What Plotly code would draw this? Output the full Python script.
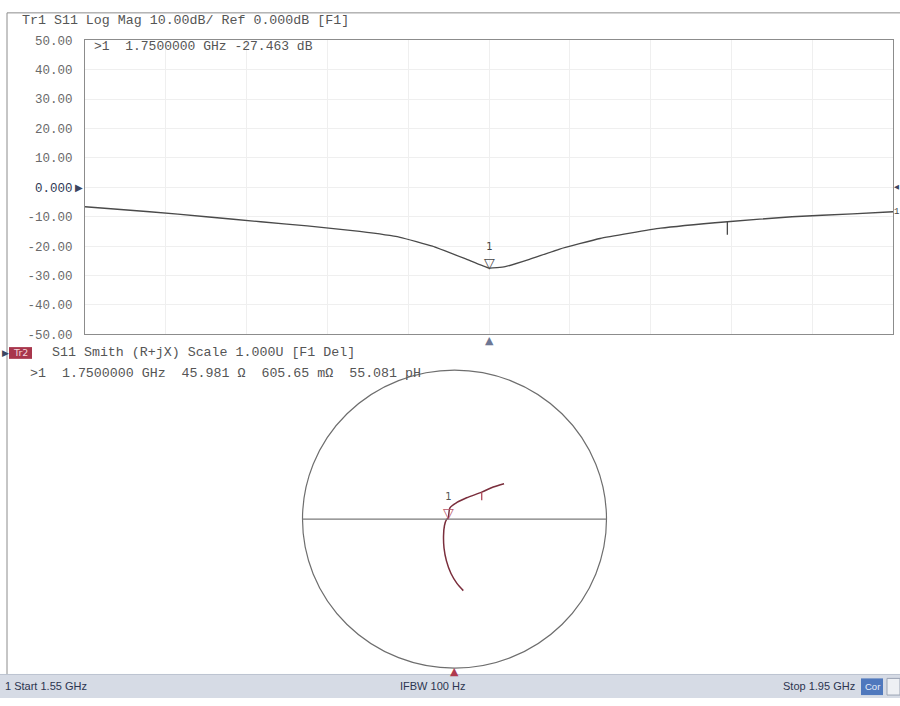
import numpy as np
import plotly.graph_objects as go

W, H = 900, 706

# ---- Trace 1: S11 log magnitude (dB) vs frequency ----
freq_ghz = [1.550, 1.582, 1.610, 1.637, 1.660, 1.686, 1.706, 1.722, 1.739, 1.750,
            1.758, 1.770, 1.785, 1.805, 1.835, 1.868, 1.900, 1.930, 1.950]
s11_db = [-6.6, -8.3, -10.0, -11.7, -13.1, -15.0, -17.0, -20.0, -24.5, -27.463,
          -27.0, -24.5, -21.0, -17.4, -13.9, -11.7, -10.0, -9.0, -8.3]

y_tick_vals = [50, 40, 30, 20, 10, 0, -10, -20, -30, -40, -50]
y_tick_text = ["50.00", "40.00", "30.00", "20.00", "10.00", "0.000",
               "-10.00", "-20.00", "-30.00", "-40.00", "-50.00"]

# ---- Trace 2: S11 on the Smith chart (reflection coefficient) ----
smith_freq_ghz = [1.550, 1.565, 1.590, 1.625, 1.665, 1.708, 1.730, 1.744, 1.750,
                  1.778, 1.797, 1.820, 1.868, 1.910, 1.950]
gamma_re = [0.058, 0.016, -0.023, -0.053, -0.069, -0.072, -0.066, -0.053, -0.0418,
            -0.030, 0.016, 0.080, 0.179, 0.255, 0.326]
gamma_im = [-0.480, -0.431, -0.365, -0.280, -0.194, -0.109, -0.043, -0.003, 0.0066,
            0.076, 0.112, 0.143, 0.181, 0.216, 0.238]

# ---- Marker 1 readouts ----
marker_freq_ghz = 1.75
marker_db = -27.463
marker_r_ohm = 45.981
marker_x_mohm = 605.65
marker_l_ph = 55.081
z0_ohm = 50.0
aux_tick_freq_ghz = 1.868

start_ghz, stop_ghz = 1.55, 1.95
ifbw_hz = 100

# marker position on the Smith chart from its impedance
z_norm = complex(marker_r_ohm, marker_x_mohm / 1000.0) / z0_ohm
g_marker = (z_norm - 1) / (z_norm + 1)

tick_db = float(np.interp(aux_tick_freq_ghz, freq_ghz, s11_db))
tick_re = float(np.interp(aux_tick_freq_ghz, smith_freq_ghz, gamma_re))
tick_im = float(np.interp(aux_tick_freq_ghz, smith_freq_ghz, gamma_im))


def px(x):
    return x / W


def py(y):
    return 1 - y / H


MONO = "Liberation Mono, DejaVu Sans Mono, monospace"
TXT = "#555555"
TRACE1 = "#4a4a4a"
TRACE2 = "#7a2e3c"
BG = "#ffffff"

fig = go.Figure()

fig.add_trace(go.Scatter(
    x=freq_ghz, y=s11_db, mode="lines",
    line=dict(color=TRACE1, width=1.3, shape="spline", smoothing=0.35),
    xaxis="x", yaxis="y", hoverinfo="skip", showlegend=False))

fig.add_trace(go.Scatter(
    x=gamma_re, y=gamma_im, mode="lines",
    line=dict(color=TRACE2, width=1.5, shape="spline", smoothing=0.8),
    xaxis="x2", yaxis="y2", hoverinfo="skip", showlegend=False))

# Smith chart geometry (pixels)
cx, cy, rad = 454.5, 523.5, 152.0
pad = 1.02

fig.update_layout(
    width=W, height=H,
    margin=dict(l=0, r=0, t=0, b=0),
    paper_bgcolor=BG,
    plot_bgcolor=BG,
    showlegend=False,
    xaxis=dict(
        domain=[px(85), px(893)], range=[start_ghz, stop_ghz],
        tick0=start_ghz, dtick=(stop_ghz - start_ghz) / 10,
        showticklabels=False, ticks="",
        showgrid=True, gridcolor="#efefef", gridwidth=1,
        zeroline=False, showline=True, mirror=True,
        linecolor="#8c8c8c", linewidth=1, fixedrange=True),
    yaxis=dict(
        domain=[py(335), py(35)], range=[-50, 50],
        tickvals=y_tick_vals,
        ticktext=[("<span style='color:#2f3a55'>%s</span>" % t) if v == 0 else t
                  for v, t in zip(y_tick_vals, y_tick_text)],
        tickfont=dict(family=MONO, size=12.5, color="#6a6a6a"),
        ticks="", ticklabelstandoff=9,
        showgrid=True, gridcolor="#efefef", gridwidth=1,
        zeroline=False, showline=True, mirror=True,
        linecolor="#8c8c8c", linewidth=1, fixedrange=True),
    xaxis2=dict(
        domain=[px(cx - rad * pad), px(cx + rad * pad)], range=[-pad, pad],
        visible=False, fixedrange=True),
    yaxis2=dict(
        domain=[py(cy + rad * pad), py(cy - rad * pad)], range=[-pad, pad],
        visible=False, fixedrange=True),
)

shapes = [
    # outer frame
    dict(type="line", xref="paper", yref="paper", x0=px(7), x1=px(7), y0=py(7), y1=py(682),
         line=dict(color="#8c8c8c", width=1)),
    dict(type="line", xref="paper", yref="paper", x0=px(7), x1=px(900), y0=py(7), y1=py(7),
         line=dict(color="#8c8c8c", width=1)),
    # Smith chart outline and real axis
    dict(type="circle", xref="x2", yref="y2", x0=-1, y0=-1, x1=1, y1=1,
         line=dict(color="#6e6e6e", width=1.2)),
    dict(type="line", xref="x2", yref="y2", x0=-1, x1=1, y0=0, y1=0,
         line=dict(color="#7a7a7a", width=1.2)),
    # auxiliary tick on both traces
    dict(type="line", xref="x", yref="y", ysizemode="pixel", yanchor=tick_db,
         x0=aux_tick_freq_ghz, x1=aux_tick_freq_ghz, y0=0, y1=-13,
         line=dict(color=TRACE1, width=1.3)),
    dict(type="line", xref="x2", yref="y2", ysizemode="pixel", yanchor=tick_im,
         x0=tick_re, x1=tick_re, y0=0, y1=-8,
         line=dict(color="#b04a5a", width=1.3)),
    # trace 2 badge
    dict(type="rect", xref="paper", yref="paper", x0=px(9), x1=px(32), y0=py(360), y1=py(348),
         fillcolor="#a8364c", line=dict(width=0)),
    # status bar
    dict(type="rect", xref="paper", yref="paper", x0=0, x1=1, y0=0, y1=py(682),
         fillcolor="#d6dbe5", line=dict(width=0), layer="above"),
    dict(type="line", xref="paper", yref="paper", x0=0, x1=1, y0=py(682), y1=py(682),
         line=dict(color="#bcc3d0", width=1), layer="above"),
    dict(type="rect", xref="paper", yref="paper", x0=px(861), x1=px(883), y0=py(703), y1=py(686),
         fillcolor="#4f78bd", line=dict(width=0), layer="above"),
    dict(type="rect", xref="paper", yref="paper", x0=px(887), x1=px(900), y0=py(703), y1=py(686),
         fillcolor="#eef0f4", line=dict(color="#9aa3b3", width=1), layer="above"),
]
fig.update_layout(shapes=shapes)

ann = []


def text(x, y, s, size=13, color=TXT, anchor="left", family=MONO):
    ann.append(dict(xref="paper", yref="paper", x=px(x), y=py(y), text=s,
                    showarrow=False, xanchor=anchor, yanchor="middle",
                    font=dict(family=family, size=size, color=color)))


text(20, 15, "Tr1 S11 Log Mag 10.00dB/ Ref 0.000dB [F1]", size=13.3)
text(92, 41, ">1  %.7f GHz %.3f dB" % (marker_freq_ghz, marker_db), size=13)

# reference-level arrows at 0 dB
ann.append(dict(xref="paper", yref="y", x=px(85), y=0, text="▶", showarrow=False,
                xanchor="right", yanchor="middle",
                font=dict(family="DejaVu Sans", size=10, color="#3a4560")))
ann.append(dict(xref="paper", yref="y", x=px(893), y=0, text="◀", showarrow=False,
                xanchor="left", yanchor="middle", borderpad=0,
                font=dict(family="DejaVu Sans", size=6.5, color="#3a4560")))
ann.append(dict(xref="paper", yref="y", x=px(893), y=s11_db[-1], text="1", showarrow=False,
                xanchor="left", yanchor="middle", borderpad=0,
                font=dict(family=MONO, size=9, color="#444444")))

# marker 1 on the log-mag trace
ann.append(dict(xref="x", yref="y", x=marker_freq_ghz, y=marker_db,
                text="<span style='font-size:10px'>1</span><br>▽", showarrow=False,
                xanchor="center", yanchor="bottom",
                yshift=-5, font=dict(family="DejaVu Sans", size=14, color="#444444")))
# active-marker indicator below the log-mag grid
ann.append(dict(xref="x", yref="paper", x=marker_freq_ghz, y=py(341), text="▲",
                showarrow=False, xanchor="center", yanchor="middle",
                font=dict(family="DejaVu Sans", size=11, color="#6d7794")))

# Smith chart header
text(0, 354, "▶", size=9, color="#3a4560", family="DejaVu Sans")
text(20.5, 354, "Tr2", size=9.5, color="#f3d5da", anchor="center", family="DejaVu Sans")
text(50, 354, "S11 Smith (R+jX) Scale 1.000U [F1 Del]", size=13.3)
text(28, 375, ">1  %.7f GHz  %.3f Ω  %.2f mΩ  %.3f pH"
     % (marker_freq_ghz, marker_r_ohm, marker_x_mohm, marker_l_ph), size=13.3)

# marker 1 on the Smith trace
ann.append(dict(xref="x2", yref="y2", x=g_marker.real, y=g_marker.imag,
                text="<span style='color:#555555;font-size:10px'>1</span><br>▽",
                showarrow=False, xanchor="center", yanchor="bottom", yshift=-5,
                font=dict(family="DejaVu Sans", size=14, color="#b8566a")))
ann.append(dict(xref="x2", yref="paper", x=0, y=py(679), text="▲",
                showarrow=False, xanchor="center", yanchor="middle",
                font=dict(family="DejaVu Sans", size=11, color="#b03a4e")))

# status bar
SB = "Liberation Sans, Arial, sans-serif"
text(3, 694, "1 Start %.2f GHz" % start_ghz, size=11, color="#2c3550", family=SB)
text(432, 694, "IFBW %d Hz" % ifbw_hz, size=11, color="#2c3550", anchor="center", family=SB)
text(857, 694, "Stop %.2f GHz" % stop_ghz, size=11, color="#2c3550", anchor="right", family=SB)
text(872, 694.5, "Cor", size=9.5, color="#e8eefa", anchor="center", family=SB)

fig.update_layout(annotations=ann)

fig.write_html("out.html")
